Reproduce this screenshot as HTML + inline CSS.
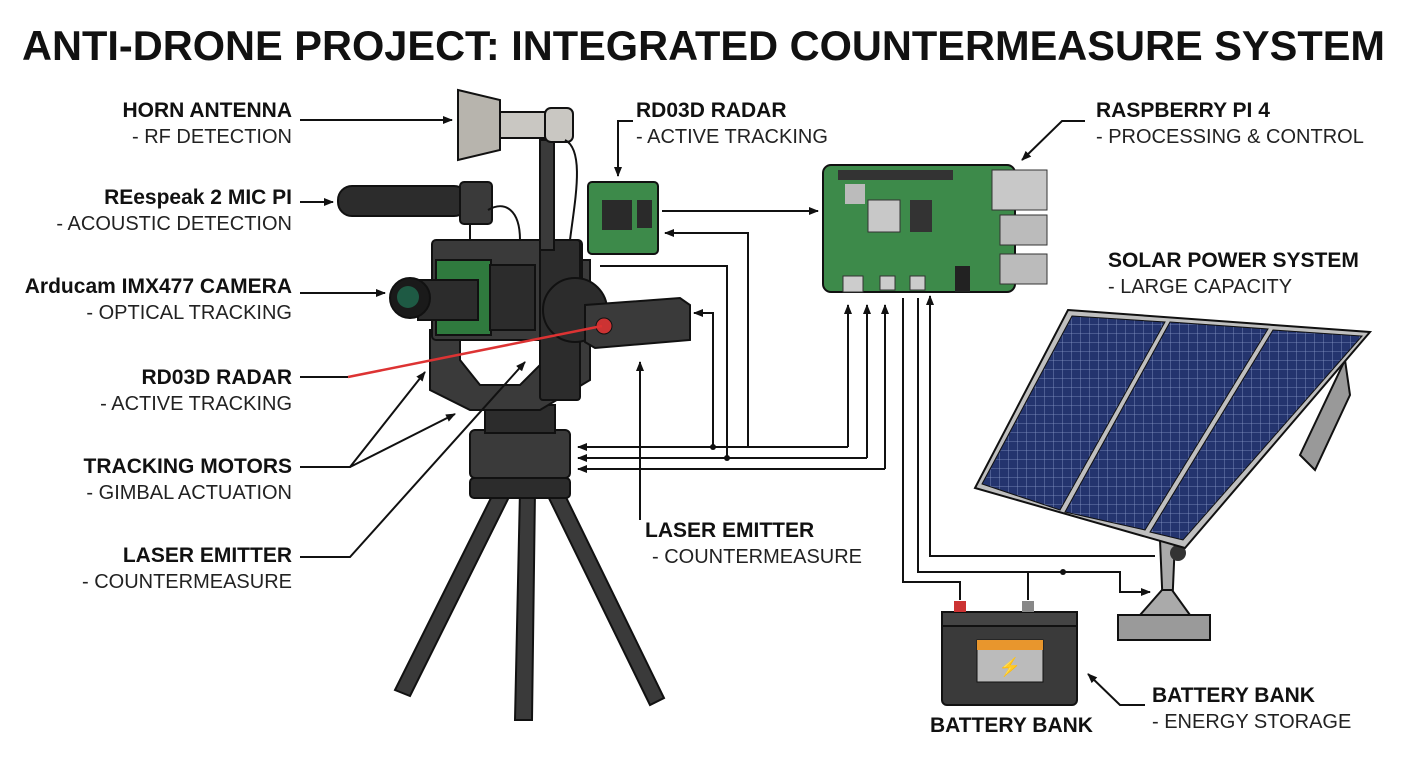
<!DOCTYPE html>
<html><head><meta charset="utf-8"><style>
html,body{margin:0;padding:0;background:#fff;}
svg{display:block;font-family:"Liberation Sans",sans-serif;}
.b{font-weight:bold;font-size:21px;fill:#111;}
.n{font-size:20px;fill:#222;}
.l{stroke:#111;stroke-width:2;fill:none;}
.d{fill:#3a3a3a;stroke:#111;stroke-width:2;}
.d2{fill:#2c2c2c;stroke:#111;stroke-width:2;}
</style></head><body>
<svg width="1408" height="768" viewBox="0 0 1408 768">
<defs>
<marker id="a" markerWidth="10" markerHeight="10" refX="9" refY="5" orient="auto" markerUnits="userSpaceOnUse"><path d="M0,1 L10,5 L0,9 z" fill="#111"/></marker>
<pattern id="cell" width="9" height="9" patternUnits="userSpaceOnUse"><rect width="9" height="9" fill="#24346e"/><path d="M0,0H9M0,0V9" stroke="#8a9ac8" stroke-width="0.8"/></pattern>
</defs>
<text x="22" y="60" font-size="42" font-weight="bold" fill="#111" textLength="1363" lengthAdjust="spacingAndGlyphs">ANTI-DRONE PROJECT: INTEGRATED COUNTERMEASURE SYSTEM</text>

<!-- left labels -->
<g text-anchor="end">
<text x="292" y="117" class="b">HORN ANTENNA</text><text x="292" y="143" class="n">- RF DETECTION</text>
<text x="292" y="204" class="b">REespeak 2 MIC PI</text><text x="292" y="230" class="n">- ACOUSTIC DETECTION</text>
<text x="292" y="293" class="b">Arducam IMX477 CAMERA</text><text x="292" y="319" class="n">- OPTICAL TRACKING</text>
<text x="292" y="384" class="b">RD03D RADAR</text><text x="292" y="410" class="n">- ACTIVE TRACKING</text>
<text x="292" y="473" class="b">TRACKING MOTORS</text><text x="292" y="499" class="n">- GIMBAL ACTUATION</text>
<text x="292" y="562" class="b">LASER EMITTER</text><text x="292" y="588" class="n">- COUNTERMEASURE</text>
</g>
<text x="636" y="117" class="b">RD03D RADAR</text><text x="636" y="143" class="n">- ACTIVE TRACKING</text>
<text x="1096" y="117" class="b">RASPBERRY PI 4</text><text x="1096" y="143" class="n">- PROCESSING &amp; CONTROL</text>
<text x="1108" y="267" class="b">SOLAR POWER SYSTEM</text><text x="1108" y="293" class="n">- LARGE CAPACITY</text>
<text x="645" y="537" class="b">LASER EMITTER</text><text x="652" y="563" class="n">- COUNTERMEASURE</text>
<text x="1152" y="702" class="b">BATTERY BANK</text><text x="1152" y="728" class="n">- ENERGY STORAGE</text>
<text x="930" y="732" class="b">BATTERY BANK</text>

<!-- tripod -->
<g>
<path d="M495,490 L395,690 L410,696 L510,495z" class="d"/>
<path d="M520,490 L515,720 L532,720 L535,490z" class="d"/>
<path d="M545,490 L650,705 L664,698 L560,485z" class="d"/>
<rect x="470" y="478" width="100" height="20" rx="4" class="d2"/>
<rect x="470" y="430" width="100" height="48" rx="5" class="d"/>
<rect x="485" y="405" width="70" height="28" class="d2"/>
</g>
<!-- gimbal -->
<path d="M430,330 L430,390 L470,410 L540,410 L590,380 L590,260 L545,260 L545,360 L520,385 L480,385 L460,360 L460,330z" class="d"/>
<rect x="432" y="240" width="150" height="100" rx="4" class="d"/>
<rect x="540" y="240" width="40" height="160" rx="3" class="d2"/>
<circle cx="575" cy="310" r="32" class="d2"/>
<rect x="436" y="260" width="55" height="75" fill="#2f7a3e" stroke="#111" stroke-width="2"/>
<rect x="490" y="265" width="45" height="65" class="d2"/>
<rect x="418" y="280" width="60" height="40" class="d2"/>
<circle cx="410" cy="298" r="20" fill="#1a1a1a" stroke="#111" stroke-width="2"/>
<circle cx="408" cy="297" r="11" fill="#1e5a44"/>
<!-- laser emitter -->
<path d="M585,305 L680,298 L690,305 L690,340 L595,348 L585,342z" class="d"/>
<circle cx="604" cy="326" r="8" fill="#c33" stroke="#111"/>
<line x1="348" y1="377" x2="602" y2="326" stroke="#d33" stroke-width="2.5"/>
<!-- mic -->
<rect x="338" y="186" width="130" height="30" rx="14" class="d2"/>
<rect x="460" y="182" width="32" height="42" rx="4" class="d"/>
<path d="M470,224 v16 M488,210 C505,200 520,210 520,240" class="l"/>
<!-- horn -->
<rect x="540" y="140" width="14" height="110" class="d"/>
<path d="M458,90 L500,100 L500,150 L458,160z" fill="#b7b4ad" stroke="#111" stroke-width="2"/>
<rect x="500" y="112" width="50" height="26" fill="#c9c7c2" stroke="#111" stroke-width="2"/>
<rect x="545" y="108" width="28" height="34" rx="6" fill="#c9c7c2" stroke="#111" stroke-width="2"/>
<path d="M565,140 C585,150 575,200 570,240" class="l"/>
<!-- radar board -->
<rect x="588" y="182" width="70" height="72" rx="4" fill="#3d8a4a" stroke="#111" stroke-width="2"/>
<rect x="602" y="200" width="30" height="30" fill="#2a2a2a"/><rect x="637" y="200" width="15" height="28" fill="#2a2a2a"/>
<!-- raspberry pi -->
<rect x="823" y="165" width="192" height="127" rx="8" fill="#3d8a4a" stroke="#111" stroke-width="2"/>
<rect x="838" y="170" width="115" height="10" fill="#333"/>
<rect x="992" y="170" width="55" height="40" fill="#c8c8c8" stroke="#333"/>
<rect x="1000" y="215" width="47" height="30" fill="#bbb" stroke="#333"/>
<rect x="1000" y="254" width="47" height="30" fill="#bbb" stroke="#333"/>
<rect x="868" y="200" width="32" height="32" fill="#c8c8c8" stroke="#333"/>
<rect x="910" y="200" width="22" height="32" fill="#333"/><rect x="845" y="184" width="20" height="20" fill="#bbb"/>
<rect x="843" y="276" width="20" height="16" fill="#ccc" stroke="#333"/><rect x="880" y="276" width="15" height="14" fill="#ccc" stroke="#333"/><rect x="910" y="276" width="15" height="14" fill="#ccc" stroke="#333"/>
<rect x="955" y="266" width="15" height="26" fill="#222"/>
<!-- solar -->
<path d="M1160,540 L1175,540 L1172,610 L1163,610z" fill="#aaa" stroke="#111" stroke-width="2"/>
<path d="M1118,615 L1210,615 L1210,640 L1118,640z" fill="#9a9a9a" stroke="#111" stroke-width="2"/>
<path d="M1140,615 L1162,590 L1172,590 L1190,615z" fill="#aaa" stroke="#111" stroke-width="2"/>
<circle cx="1178" cy="553" r="8" fill="#333"/>
<path d="M1345,360 L1350,395 L1315,470 L1300,455z" fill="#999" stroke="#111" stroke-width="2"/>
<path d="M1068,310 L1370,332 L1185,548 L975,488z" fill="#bfbfbf" stroke="#111" stroke-width="2"/>
<path d="M1072,316 L1165,322 L1060,510 L982,484z" fill="url(#cell)" stroke="#111"/>
<path d="M1170,322 L1268,329 L1145,530 L1065,512z" fill="url(#cell)" stroke="#111"/>
<path d="M1273,330 L1362,336 L1183,540 L1150,532z" fill="url(#cell)" stroke="#111"/>
<!-- battery -->
<rect x="942" y="612" width="135" height="93" rx="5" fill="#3a3a3a" stroke="#111" stroke-width="2"/>
<rect x="942" y="612" width="135" height="14" fill="#444" stroke="#111" stroke-width="2"/>
<rect x="954" y="601" width="12" height="11" fill="#c33"/><rect x="1022" y="601" width="12" height="11" fill="#888"/>
<rect x="977" y="640" width="66" height="42" fill="#bbb" stroke="#111"/><rect x="977" y="640" width="66" height="10" fill="#e8962d"/>
<text x="1010" y="673" text-anchor="middle" font-size="18" fill="#e8a300">⚡</text>

<!-- connectors -->
<g class="l">
<path d="M300,120H452" marker-end="url(#a)"/>
<path d="M300,202H333" marker-end="url(#a)"/>
<path d="M300,293H385" marker-end="url(#a)"/>
<path d="M300,377H348"/>
<path d="M300,467H350L425,372" marker-end="url(#a)"/>
<path d="M350,467L455,414" marker-end="url(#a)"/>
<path d="M300,557H350L525,362" marker-end="url(#a)"/>
<path d="M633,121H618V176" marker-end="url(#a)"/>
<path d="M1085,121H1062L1022,160" marker-end="url(#a)"/>
<path d="M662,211H818" marker-end="url(#a)"/>
<path d="M748,447V233H665" marker-end="url(#a)"/>
<path d="M600,266H727V458"/>
<path d="M713,447V313H694" marker-end="url(#a)"/>
<path d="M640,520V362" marker-end="url(#a)"/>
<path d="M848,447H578" marker-end="url(#a)"/>
<path d="M867,458H578" marker-end="url(#a)"/>
<path d="M885,469H578" marker-end="url(#a)"/>
<path d="M848,447V305" marker-end="url(#a)"/>
<path d="M867,458V305" marker-end="url(#a)"/>
<path d="M885,469V305" marker-end="url(#a)"/>
<path d="M903,298V582H960V600"/>
<path d="M918,298V572H1120V592H1150" marker-end="url(#a)"/>
<path d="M1028,572V600"/>
<path d="M930,305V556H1155" />
<path d="M1145,705H1120L1088,674" marker-end="url(#a)"/>
</g>
<path d="M930,305V296" class="l" marker-end="url(#a)"/>
<g fill="#111"><circle cx="713" cy="447" r="3"/><circle cx="727" cy="458" r="3"/><circle cx="1063" cy="572" r="3"/></g>
</svg>
</body></html>
